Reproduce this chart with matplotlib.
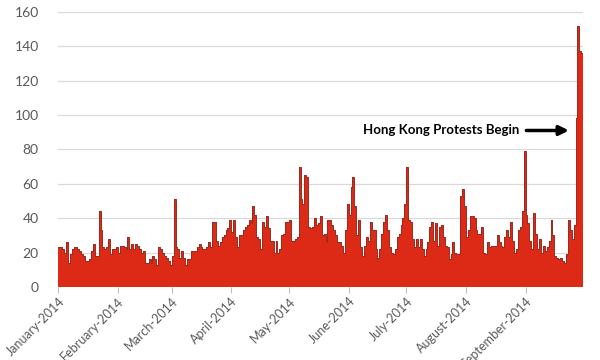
import matplotlib
matplotlib.use("Agg")
import matplotlib.pyplot as plt
import matplotlib.dates as mdates
import pandas as pd
import numpy as np

# daily counts
jan = [23, 23, 22, 20, 26, 14, 19, 22, 23, 23, 22, 21, 19, 18, 15, 15, 16, 21, 25, 18,
       18, 44, 33, 23, 22, 23, 28, 19, 22, 22, 23]
feb = [20, 24, 24, 23, 22, 29, 22, 25, 22, 25, 24, 22, 20, 21, 14, 14, 16, 14, 18, 16,
       13, 23, 22, 20, 18, 17, 15, 13]
mar = [18, 51, 23, 22, 17, 21, 17, 13, 16, 16, 21, 21, 21, 23, 25, 23, 22, 22, 23, 26,
       23, 38, 38, 27, 24, 26, 29, 30, 33, 34, 39]
apr = [32, 39, 29, 23, 30, 30, 33, 35, 36, 39, 37, 47, 42, 29, 28, 22, 38, 35, 41, 34,
       27, 27, 20, 27, 20, 22, 30, 31, 38, 38]
may = [39, 27, 27, 28, 29, 70, 51, 48, 65, 64, 35, 34, 35, 40, 36, 37, 41, 30, 31, 26,
       39, 39, 36, 33, 30, 26, 26, 24, 20, 33, 48]
jun = [42, 58, 64, 47, 30, 39, 23, 18, 24, 29, 27, 38, 33, 33, 22, 17, 22, 31, 38, 42,
       33, 23, 20, 19, 22, 29, 31, 36, 40, 48]
jul = [70, 39, 38, 28, 23, 28, 23, 28, 22, 18, 22, 26, 35, 38, 27, 37, 24, 35, 36, 29,
       24, 23, 16, 19, 26, 20, 19, 19, 53, 57, 47]
aug = [29, 33, 41, 41, 40, 33, 31, 31, 35, 20, 19, 26, 23, 24, 24, 24, 30, 26, 24, 23,
       29, 33, 29, 38, 27, 20, 22, 33, 35, 44, 79]
sep = [42, 37, 27, 22, 43, 31, 22, 28, 20, 24, 21, 23, 27, 39, 30, 18, 17, 16, 17, 15,
       14, 19, 39, 33, 28, 36, 98, 152, 137, 136]

values = jan + feb + mar + apr + may + jun + jul + aug + sep
days = pd.date_range("2014-01-01", periods=len(values), freq="D")
month_ticks = pd.date_range("2014-01-01", "2014-09-01", freq="MS")
month_labels = [d.strftime("%B-%Y") for d in month_ticks]

note_text = "Hong Kong Protests Begin"
note_value = 91

fig = plt.figure(figsize=(6, 3.6), dpi=100)
ax = fig.add_axes([0.097, 0.203, 0.875, 0.764])

ax.bar(days, values, width=1.0, align="edge", color="#DC2A17", linewidth=0, zorder=2)
# darker outline along the bar tops, like the reference
ax.step(list(days) + [days[-1] + pd.Timedelta(days=1)], values + [values[-1]],
        where="post", color="#9A2A20", lw=0.7, zorder=3)

ax.set_ylim(0, 160)
ax.set_yticks(range(0, 161, 20))
ax.set_xlim(days[0], days[-1] + pd.Timedelta(days=1))
ax.set_xticks(month_ticks)
ax.set_xticklabels(month_labels, rotation=45, ha="right", rotation_mode="anchor",
                   fontsize=9, color="#595959", family=["Lato", "DejaVu Sans"])
for lab in ax.get_yticklabels():
    lab.set_fontsize(10)
    lab.set_color("#595959")
    lab.set_family(["Lato", "DejaVu Sans"])

ax.grid(axis="y", color="#D9D9D9", lw=0.9, zorder=0)
ax.set_axisbelow(True)
for s in ["top", "right", "left", "bottom"]:
    ax.spines[s].set_visible(False)
ax.tick_params(axis="y", length=0, pad=14)
ax.tick_params(axis="x", length=4, color="#BFBFBF", pad=2)

ax.text(pd.Timestamp("2014-08-29"), note_value, note_text, ha="right", va="center",
        fontsize=9.5, fontweight="bold", color="black", family=["Lato", "DejaVu Sans"])
ax.annotate("", xy=(pd.Timestamp("2014-09-25"), note_value),
            xytext=(pd.Timestamp("2014-08-31"), note_value),
            arrowprops=dict(arrowstyle="-|>", lw=2.5, color="black", mutation_scale=14))

fig.savefig("out.png", dpi=100)
